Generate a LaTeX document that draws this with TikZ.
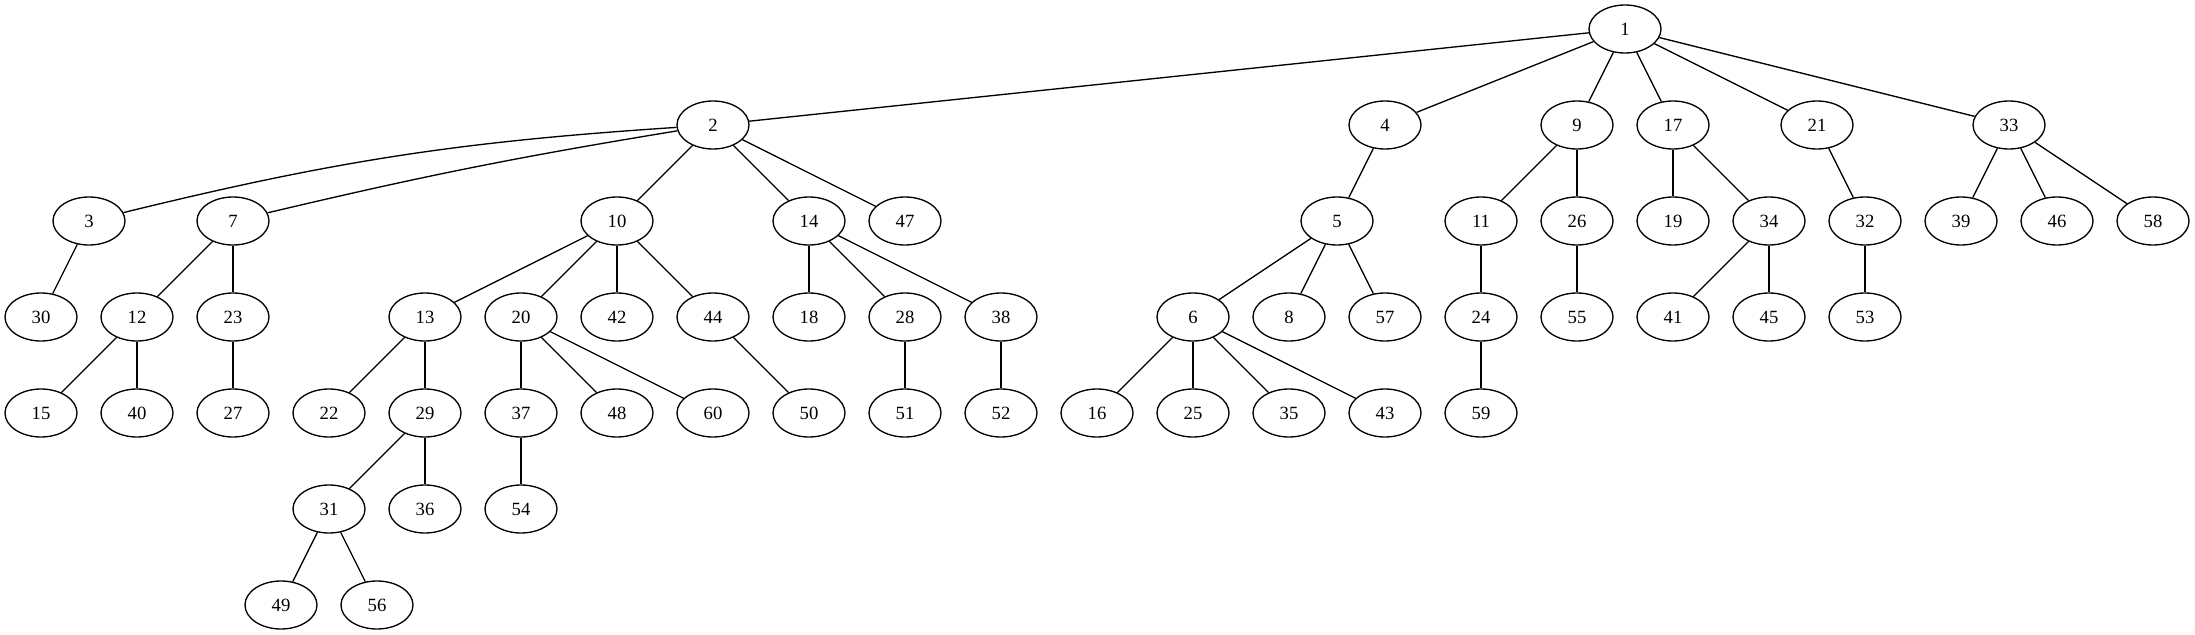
\documentclass[tikz,border=0pt]{standalone}
\usepackage{fontspec}
\setmainfont{Liberation Serif}
\usetikzlibrary{shapes.geometric}
\begin{document}
\begin{tikzpicture}[x=0.75pt,y=-0.75pt,
  gnode/.style={ellipse,draw,line width=1pt,minimum width=54pt,minimum height=36pt,inner sep=0pt,font=\fontsize{14}{16}\selectfont},
  gedge/.style={line width=1pt}]
\useasboundingbox (0,0) rectangle (2195,635);
% row 0
\node[gnode] (n1) at (1625,29) {1};
% row 1
\foreach \n/\x in {2/713,4/1385,9/1577,17/1673,21/1817,33/2009}
  \node[gnode] (n\n) at (\x,125) {\n};
% row 2
\foreach \n/\x in {3/89,7/233,10/617,14/809,47/905,5/1337,11/1481,26/1577,19/1673,34/1769,32/1865,39/1961,46/2057,58/2153}
  \node[gnode] (n\n) at (\x,221) {\n};
% row 3
\foreach \n/\x in {30/41,12/137,23/233,13/425,20/521,42/617,44/713,18/809,28/905,38/1001,6/1193,8/1289,57/1385,24/1481,55/1577,41/1673,45/1769,53/1865}
  \node[gnode] (n\n) at (\x,317) {\n};
% row 4
\foreach \n/\x in {15/41,40/137,27/233,22/329,29/425,37/521,48/617,60/713,50/809,51/905,52/1001,16/1097,25/1193,35/1289,43/1385,59/1481}
  \node[gnode] (n\n) at (\x,413) {\n};
% row 5
\foreach \n/\x in {31/329,36/425,54/521}
  \node[gnode] (n\n) at (\x,509) {\n};
% row 6
\foreach \n/\x in {49/281,56/377}
  \node[gnode] (n\n) at (\x,605) {\n};
% edges
\draw[gedge] (n2) to[bend right=5] (n3);
\draw[gedge] (n2) to[bend right=2] (n7);
\foreach \a/\b in {1/2,1/4,1/9,1/17,1/21,1/33,
  2/10,2/14,2/47,4/5,9/11,9/26,17/19,17/34,21/32,33/39,33/46,33/58,
  3/30,7/12,7/23,10/13,10/20,10/42,10/44,14/18,14/28,14/38,
  5/6,5/8,5/57,11/24,26/55,34/41,34/45,32/53,
  12/15,12/40,23/27,13/22,13/29,20/37,20/48,20/60,44/50,28/51,38/52,
  6/16,6/25,6/35,6/43,24/59,29/31,29/36,37/54,31/49,31/56}
  \draw[gedge] (n\a) -- (n\b);
\end{tikzpicture}
\end{document}
